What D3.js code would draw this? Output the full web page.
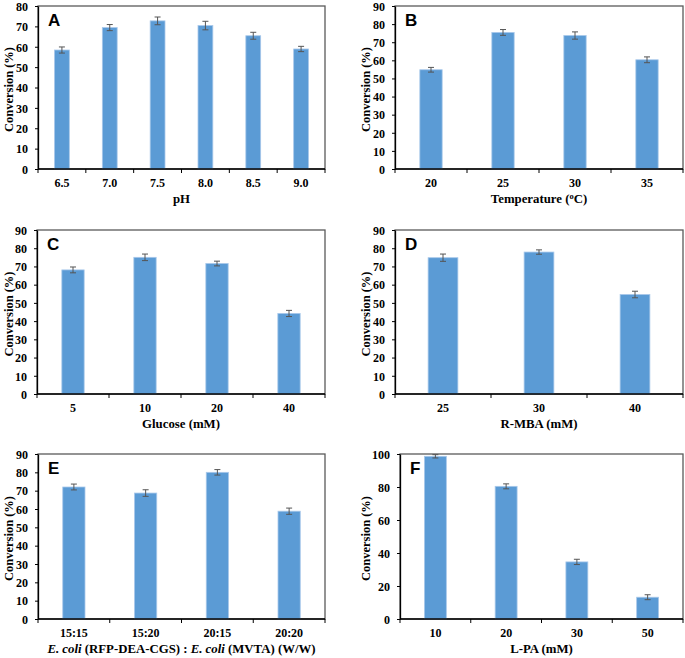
<!DOCTYPE html>
<html>
<head>
<meta charset="utf-8">
<script src="https://cdn.jsdelivr.net/npm/d3@7"></script>
<style>
  body { margin: 0; background: #fff; }
  svg { display: block; }
  text { font-family: "Liberation Serif", "Times New Roman", serif; font-weight: bold; fill: #000; }
  .letter { font-family: "Liberation Sans", Arial, sans-serif; font-size: 17px; }
</style>
</head>
<body>
<script>
// ---- data ----
const phCats = ["6.5", "7.0", "7.5", "8.0", "8.5", "9.0"];
const phVals = [58.4, 69.4, 72.7, 70.4, 65.4, 58.9];
const phErr  = [1.5, 1.5, 1.9, 2.1, 1.7, 1.3];

const tempCats = ["20", "25", "30", "35"];
const tempVals = [54.8, 75.4, 73.7, 60.3];
const tempErr  = [1.3, 1.6, 2.0, 1.6];

const glucoseCats = ["5", "10", "20", "40"];
const glucoseVals = [68.1, 75.0, 71.6, 44.2];
const glucoseErr  = [1.6, 1.8, 1.3, 1.7];

const mbaCats = ["25", "30", "40"];
const mbaVals = [74.8, 77.9, 54.6];
const mbaErr  = [2.0, 1.2, 1.8];

const ratioCats = ["15:15", "15:20", "20:15", "20:20"];
const ratioVals = [72.0, 68.7, 80.0, 58.8];
const ratioErr  = [1.6, 1.8, 1.5, 1.7];

const lpaCats = ["10", "20", "30", "50"];
const lpaVals = [98.6, 80.4, 34.6, 13.2];
const lpaErr  = [1.0, 1.5, 1.6, 1.5];

// ---- layout of each panel ----
const panels = [
  { letter: "A", cats: phCats, vals: phVals, err: phErr, yMax: 80, yStep: 10,
    x0: 38, x1: 325, y0: 6, y1: 169, labelX: 13, title: [{ t: "pH" }] },
  { letter: "B", cats: tempCats, vals: tempVals, err: tempErr, yMax: 90, yStep: 10,
    x0: 395, x1: 683, y0: 6, y1: 169, labelX: 370,
    title: [{ t: "Temperature (" }, { t: "o", sup: true }, { t: "C)" }] },
  { letter: "C", cats: glucoseCats, vals: glucoseVals, err: glucoseErr, yMax: 90, yStep: 10,
    x0: 37, x1: 325, y0: 230, y1: 394, labelX: 13, title: [{ t: "Glucose (mM)" }] },
  { letter: "D", cats: mbaCats, vals: mbaVals, err: mbaErr, yMax: 90, yStep: 10,
    x0: 395, x1: 683, y0: 230, y1: 394, labelX: 370, title: [{ t: "R-MBA (mM)" }] },
  { letter: "E", cats: ratioCats, vals: ratioVals, err: ratioErr, yMax: 90, yStep: 10,
    x0: 38, x1: 325, y0: 454, y1: 619, labelX: 13,
    title: [{ t: "E. coli", it: true }, { t: " (RFP-DEA-CGS) : " }, { t: "E. coli", it: true }, { t: " (MVTA) (W/W)" }] },
  { letter: "F", cats: lpaCats, vals: lpaVals, err: lpaErr, yMax: 100, yStep: 20,
    x0: 400, x1: 683, y0: 454, y1: 619, labelX: 370, title: [{ t: "L-PA (mM)" }] }
];

const svg = d3.select("body").append("svg")
  .attr("width", 685)
  .attr("height", 658);

panels.forEach(drawPanel);

function drawPanel(p) {
  const g = svg.append("g");
  const x = d3.scaleBand().domain(p.cats).range([p.x0, p.x1]).paddingInner(0).paddingOuter(0);
  const y = d3.scaleLinear().domain([0, p.yMax]).range([p.y1, p.y0]);
  const barW = x.bandwidth() * 0.31;

  // frame (top / right in gray)
  g.append("rect")
    .attr("x", p.x0).attr("y", p.y0)
    .attr("width", p.x1 - p.x0).attr("height", p.y1 - p.y0)
    .attr("fill", "none")
    .attr("stroke", "#5a5a5a")
    .attr("stroke-width", 1.3);

  // bars
  g.selectAll(".bar").data(p.cats)
    .enter().append("rect")
    .attr("class", "bar")
    .attr("x", (d) => x(d) + x.bandwidth() / 2 - barW / 2)
    .attr("y", (d, i) => y(p.vals[i]))
    .attr("width", barW)
    .attr("height", (d, i) => p.y1 - y(p.vals[i]))
    .attr("fill", "#5b9bd5")
    .attr("stroke", "#a8c8ea")
    .attr("stroke-width", 0.8);

  // error bars
  const eb = g.selectAll(".err").data(p.cats).enter().append("g")
    .attr("class", "err")
    .attr("stroke", "#555")
    .attr("stroke-width", 1);
  const cx = (d) => x(d) + x.bandwidth() / 2;
  eb.append("line")
    .attr("x1", cx).attr("x2", cx)
    .attr("y1", (d, i) => y(p.vals[i] - p.err[i]))
    .attr("y2", (d, i) => y(p.vals[i] + p.err[i]));
  [1, -1].forEach(s => {
    eb.append("line")
      .attr("x1", (d) => cx(d) - 3).attr("x2", (d) => cx(d) + 3)
      .attr("y1", (d, i) => y(p.vals[i] + s * p.err[i]))
      .attr("y2", (d, i) => y(p.vals[i] + s * p.err[i]));
  });

  // y axis
  const yAxis = d3.axisLeft(y)
    .tickValues(d3.range(0, p.yMax + 0.1, p.yStep))
    .tickSizeInner(3).tickSizeOuter(0).tickPadding(7);
  const ya = g.append("g").attr("transform", "translate(" + p.x0 + ",0)").call(yAxis);
  ya.select(".domain").attr("stroke", "#000").attr("stroke-width", 1.3);
  ya.selectAll(".tick line").attr("stroke", "#000");
  ya.selectAll(".tick text")
    .attr("font-family", null).attr("font-size", 12).attr("dy", "0.36em").style("fill", "#000");

  // x axis: line plus ticks at band boundaries
  g.append("line")
    .attr("x1", p.x0).attr("x2", p.x1)
    .attr("y1", p.y1).attr("y2", p.y1)
    .attr("stroke", "#000").attr("stroke-width", 1.3);
  const bounds = p.cats.map(d => x(d)).concat([p.x1]);
  g.selectAll(".xtick").data(bounds).enter().append("line")
    .attr("x1", d => d).attr("x2", d => d)
    .attr("y1", p.y1).attr("y2", p.y1 + 4)
    .attr("stroke", "#000");
  g.selectAll(".xlab").data(p.cats).enter().append("text")
    .attr("x", cx)
    .attr("y", p.y1 + 18)
    .attr("text-anchor", "middle")
    .attr("font-size", 12)
    .text(d => d);

  // x title
  const t = g.append("text")
    .attr("x", (p.x0 + p.x1) / 2)
    .attr("y", p.y1 + 34)
    .attr("text-anchor", "middle")
    .attr("font-size", 12.8);
  p.title.forEach(part => {
    const s = t.append("tspan").text(part.t);
    if (part.it) s.attr("font-style", "italic");
    if (part.sup) s.attr("font-size", 8.5).attr("dy", -4);
    else if (part.t === "C)") s.attr("dy", 4);
  });

  // y title
  g.append("text")
    .attr("transform", "translate(" + p.labelX + "," + ((p.y0 + p.y1) / 2 + 2) + ") rotate(-90)")
    .attr("text-anchor", "middle")
    .attr("font-size", 12.5)
    .text("Conversion (%)");

  // panel letter
  g.append("text")
    .attr("class", "letter")
    .attr("x", p.x0 + 10)
    .attr("y", p.y0 + 20)
    .text(p.letter);
}
</script>
</body>
</html>
